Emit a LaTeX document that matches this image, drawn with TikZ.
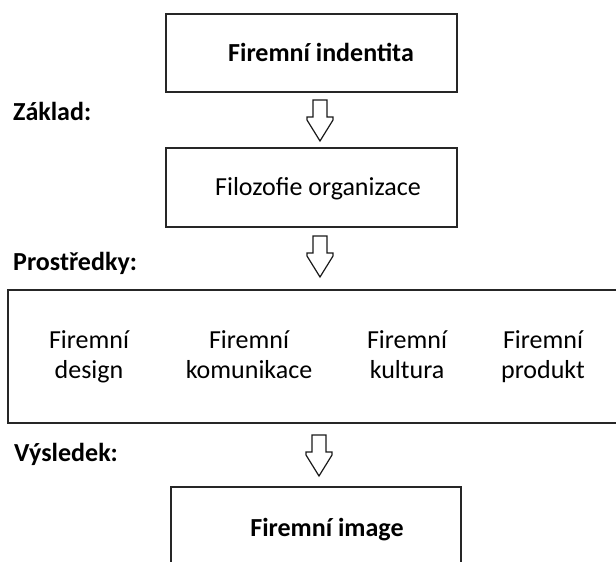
\documentclass[tikz,border=0pt]{standalone}
\usepackage{fontspec}
\setmainfont{Carlito}
\begin{document}
\begin{tikzpicture}[x=1pt,y=-1pt,
  box/.style={draw=black!85, line width=1.5pt, inner sep=0pt},
  txt/.style={inner sep=0pt, anchor=base, font=\fontsize{26}{30}\selectfont},
  btxt/.style={txt, font=\fontsize{26}{30}\selectfont\bfseries},
  lbl/.style={inner sep=0pt, anchor=base west, font=\fontsize{26}{30}\selectfont\bfseries},
  downarr/.pic={\draw[line width=1.2pt, draw=black!90, line join=miter]
     (-7,0) -- (7,0) -- (7,17) -- (13,17) -- (13,20) -- (0,41) -- (-13,20) -- (-13,17) -- (-7,17) -- cycle;}
]
\useasboundingbox (0,0) rectangle (616,562);
\clip (0,0) rectangle (616,562);

% boxes
\node[box, minimum width=291pt, minimum height=78pt] (b1) at (311.5,53) {};
\node[box, minimum width=291pt, minimum height=79pt] (b2) at (311.5,187.5) {};
\node[box, minimum width=630pt, minimum height=133pt] (b3) at (323,356.5) {};
\node[box, minimum width=290pt, minimum height=120pt] (b4) at (316,547) {};

% box texts
\node[btxt] (t1) at (321,61.5) {Firemní indentita};
\node[txt] (t2) at (318,195.5) {Filozofie organizace};
\node[btxt] (t4) at (327,536.5) {Firemní image};

\node[txt] (d1a) at (89,348.5) {Firemní};
\node[txt] (d1b) at (89,378.5) {design};
\node[txt] (d2a) at (249,348.5) {Firemní};
\node[txt] (d2b) at (249,378.5) {komunikace};
\node[txt] (d3a) at (407,348.5) {Firemní};
\node[txt] (d3b) at (407,378.5) {kultura};
\node[txt] (d4a) at (543,348.5) {Firemní};
\node[txt] (d4b) at (543,378.5) {produkt};

% side labels
\node[lbl] (l1) at (13,120.5) {Základ:};
\node[lbl] (l2) at (13,270.5) {Prostředky:};
\node[lbl] (l3) at (14,461.5) {Výsledek:};

% block arrows
\coordinate (a1) at (320,100);
\coordinate (a2) at (320,236);
\coordinate (a3) at (319,435);
\pic at (a1) {downarr};
\pic at (a2) {downarr};
\pic at (a3) {downarr};
\end{tikzpicture}
\end{document}
